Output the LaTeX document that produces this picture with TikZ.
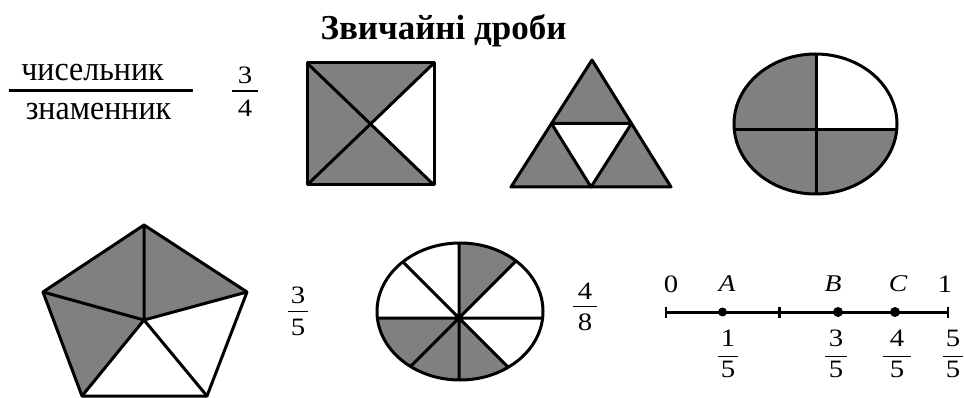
\documentclass[tikz,border=0pt]{standalone}
\usepackage{graphicx}
\usepackage{fontspec}
\setmainfont{Liberation Serif}
\definecolor{shadegray}{HTML}{808080}
\newcommand\widetxt[1]{\scalebox{1.15}[1]{#1}}
\newcommand\talltxt[1]{\scalebox{1}[1.08]{#1}}
\newcommand\myfrac[8]{%
  \node[numtxt] (#1n) at (#2,#3) {\widetxt{#6}};
  \node[numtxt] (#1d) at (#2,#5) {\widetxt{#7}};
  \draw[fracbar] (#2-#8,#4) -- (#2+#8,#4);}
\begin{document}
\begin{tikzpicture}[x=1pt,y=-1pt,
  figline/.style={draw=black,line width=3pt,line join=round},
  numtxt/.style={inner sep=0pt,font=\fontsize{25}{28}\selectfont},
  lettxt/.style={inner sep=0pt,font=\fontsize{24}{28}\selectfont\itshape},
  wordtxt/.style={inner sep=0pt,font=\fontsize{32}{36}\selectfont},
  fracbar/.style={line width=1.3pt},
  dotmark/.style={circle,fill=black,inner sep=0pt,minimum size=10pt}]
\useasboundingbox (0,0) rectangle (964,398);
% title
\node[inner sep=0pt,anchor=base,font=\fontsize{35}{40}\selectfont\bfseries] (title) at (443.5,40) {Звичайні дроби};
% numerator / denominator words
\node[wordtxt] (chys) at (92.5,72.5) {\talltxt{чисельник}};
\node[wordtxt] (znam) at (98.5,112) {\talltxt{знаменник}};
\draw[line width=3pt] (9,90.5) -- (193,90.5);
\myfrac{f34}{245}{75.5}{91}{108}{3}{4}{13}
% square
\coordinate (s1) at (307,63);
\coordinate (s2) at (434,63);
\coordinate (s3) at (434,185);
\coordinate (s4) at (307,185);
\coordinate (sc) at (370.5,124);
\fill[shadegray] (s1) -- (s2) -- (sc) -- (s3) -- (s4) -- cycle;
\draw[figline] (s1) -- (s2) -- (s3) -- (s4) -- cycle;
\draw[figline] (s1) -- (s3) (s2) -- (s4);
% triangle
\coordinate (t1) at (592,60);
\coordinate (t2) at (511,187);
\coordinate (t3) at (671,187);
\coordinate (m12) at (551.5,123.5);
\coordinate (m13) at (631.5,123.5);
\coordinate (m23) at (591,187);
\fill[shadegray] (t1) -- (t2) -- (t3) -- cycle;
\fill[white] (m12) -- (m13) -- (m23) -- cycle;
\draw[figline] (t1) -- (t2) -- (t3) -- cycle;
\draw[figline] (m12) -- (m13) -- (m23) -- cycle;
% circle in quarters
\coordinate (cc) at (816,130);
\begin{scope}
\clip (815.5,124) ellipse [x radius=81.5, y radius=70];
\fill[shadegray] (700,40) rectangle (930,210);
\fill[white] (cc) rectangle (930,40);
\draw[figline] (cc) -- ++(0,-100) (cc) -- ++(0,100) (cc) -- ++(-100,0) (cc) -- ++(100,0);
\end{scope}
\draw[figline] (815.5,124) ellipse [x radius=81.5, y radius=70];
% pentagon
\coordinate (p1) at (144,225);
\coordinate (p2) at (247,292);
\coordinate (p3) at (207,396);
\coordinate (p4) at (82,396);
\coordinate (p5) at (43,292);
\coordinate (pc) at (144,320);
\fill[shadegray] (p4) -- (p5) -- (p1) -- (p2) -- (pc) -- cycle;
\draw[figline] (p1) -- (p2) -- (p3) -- (p4) -- (p5) -- cycle;
\draw[figline] (pc) -- (p1) (pc) -- (p2) (pc) -- (p3) (pc) -- (p4) (pc) -- (p5);
\myfrac{f35}{298}{295.5}{311.5}{327}{3}{5}{10}
% circle in eighths
\coordinate (oc) at (459,318);
\begin{scope}
\clip (460,311.5) ellipse [x radius=83, y radius=68.5];
\fill[shadegray] (oc) -- ++(0,-150) -- ++(150,0) -- cycle;
\fill[shadegray] (oc) -- ++(-150,0) -- ++(0,150) -- ++(300,0) -- cycle;
\draw[figline] (oc) -- ++(0,-150) (oc) -- ++(0,150) (oc) -- ++(-150,0) (oc) -- ++(150,0)
  (oc) -- ++(150,-150) (oc) -- ++(-150,-150) (oc) -- ++(150,150) (oc) -- ++(-150,150);
\end{scope}
\draw[figline] (460,311.5) ellipse [x radius=83, y radius=68.5];
\myfrac{f48}{585}{291}{306.5}{322.5}{4}{8}{12}
% number line
\coordinate (n0) at (666,312);
\coordinate (n2) at (779.5,312);
\coordinate (n5) at (948,312);
\draw[line width=3pt] (n0) -- (n5);
\draw[line width=2.5pt] (n0) ++(0,-5.5) -- ++(0,11);
\draw[line width=2.5pt] (n2) ++(0,-5.5) -- ++(0,11);
\draw[line width=2.5pt] (n5) ++(0,-5.5) -- ++(0,11);
\node[dotmark,minimum size=9pt] (dA) at (722.5,312) {};
\node[dotmark] (dB) at (838,312) {};
\node[dotmark] (dC) at (895,312) {};
\node[numtxt] (l0) at (671,284) {\widetxt{0}};
\node[lettxt] (lA) at (727,284) {\widetxt{A}};
\node[lettxt] (lB) at (833,284) {\widetxt{B}};
\node[lettxt] (lC) at (898,284) {\widetxt{C}};
\node[numtxt] (l1) at (945,284) {\widetxt{1}};
\myfrac{g15}{728}{338}{356.5}{369}{1}{5}{10}
\myfrac{g35}{836}{338}{356.5}{369}{3}{5}{11}
\myfrac{g45}{897}{338}{356.5}{369}{4}{5}{14}
\myfrac{g55}{953}{338}{356.5}{369}{5}{5}{10}
\end{tikzpicture}
\end{document}
